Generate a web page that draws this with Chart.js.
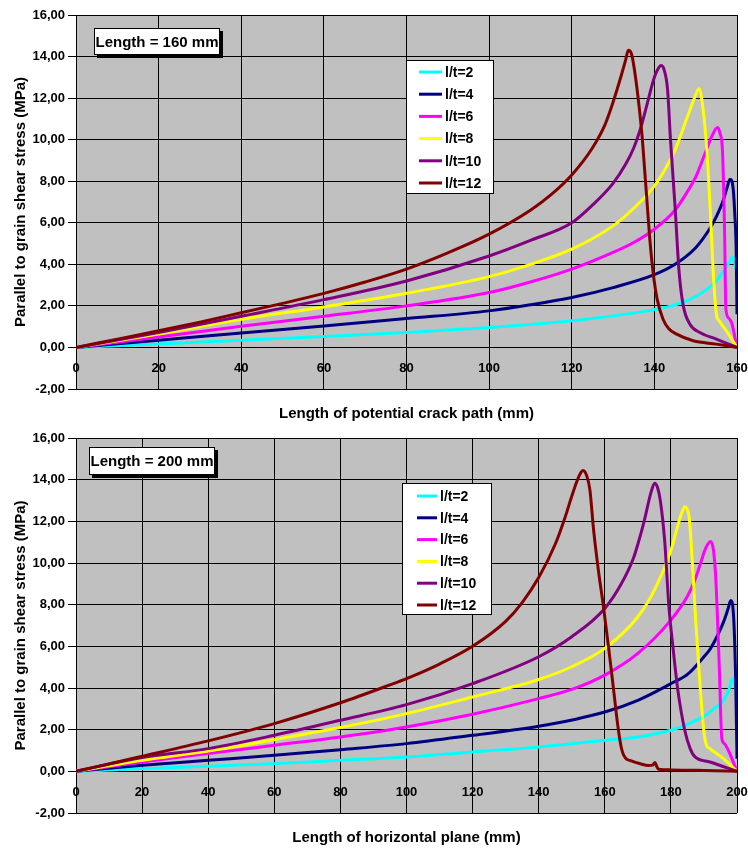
<!DOCTYPE html>
<html>
<head>
<meta charset="utf-8">
<script src="https://cdn.jsdelivr.net/npm/chart.js@4.4.1/dist/chart.umd.min.js"></script>
<style>
  body { margin: 0; background: #fff; }
  .wrap { width: 748px; height: 424px; position: relative; }
</style>
</head>
<body>
<div class="wrap"><canvas id="chart160" width="748" height="424"></canvas></div>
<div class="wrap"><canvas id="chart200" width="748" height="424"></canvas></div>
<script>
// Series labels (same for both panels)
const seriesLabels = ["l/t=2", "l/t=4", "l/t=6", "l/t=8", "l/t=10", "l/t=12"]
const seriesColors = ["#00FFFF", "#000080", "#FF00FF", "#FFFF00", "#800080", "#800000"]

// y tick values (MPa)
const yTicks = [-2, 0, 2, 4, 6, 8, 10, 12, 14, 16]

// ---- Length = 160 mm : x = length of potential crack path (mm), y = stress (MPa)
const x160_2 = [0, 20, 40, 60, 80, 100, 110, 120, 130, 140, 145, 150, 155, 157, 158.3, 158.9, 159.4, 160]
const y160_2 = [0, 0.17, 0.35, 0.53, 0.72, 0.96, 1.1, 1.28, 1.52, 1.82, 2.05, 2.45, 3.2, 3.75, 4.15, 4.35, 4.1, 3.6]

const x160_4 = [0, 20, 40, 60, 80, 100, 110, 120, 130, 140, 145, 150, 153.5, 155, 156.7, 157.6, 158.3, 159, 159.5, 159.8, 160]
const y160_4 = [0, 0.35, 0.7, 1.03, 1.39, 1.76, 2.05, 2.4, 2.88, 3.5, 4.0, 4.8, 5.75, 6.3, 7.1, 7.7, 8.1, 7.76, 6.3, 4.7, 1.6]

const x160_6 = [0, 20, 40, 60, 80, 100, 110, 120, 130, 135, 140, 145, 148, 150, 152, 154, 155.3, 155.9, 156.5, 157, 157.3, 157.9, 158.7, 159.1, 160]
const y160_6 = [0, 0.5, 1.02, 1.5, 2.0, 2.64, 3.15, 3.77, 4.57, 5.05, 5.69, 6.6, 7.5, 8.2, 9.2, 10.2, 10.58, 10.3, 9.4, 5.5, 1.9, 1.43, 1.2, 0.87, 0]

const x160_8 = [0, 20, 40, 60, 80, 100, 110, 120, 130, 135, 140, 145, 148, 150, 150.8, 151.7, 152.7, 153.6, 154.4, 155.1, 155.6, 157.5, 160]
const y160_8 = [0, 0.65, 1.35, 1.95, 2.61, 3.41, 4.0, 4.73, 5.85, 6.7, 7.77, 9.5, 11.1, 12.15, 12.45, 11.6, 9.5, 6.3, 3.1, 1.5, 1.3, 0.78, 0]

const x160_10 = [0, 20, 40, 60, 80, 100, 110, 120, 125, 130, 133, 135, 136.6, 138.1, 140, 141, 141.6, 142.3, 143.2, 143.9, 145, 146, 147, 148.6, 151, 155, 160]
const y160_10 = [0, 0.72, 1.5, 2.3, 3.2, 4.4, 5.15, 6.0, 6.85, 7.9, 8.8, 9.6, 10.5, 11.6, 13.0, 13.45, 13.57, 13.4, 12.4, 10.0, 6.8, 3.6, 2.0, 1.12, 0.72, 0.4, 0]

const x160_12 = [0, 10, 20, 30, 40, 50, 60, 70, 80, 90, 100, 110, 115, 120, 125, 128, 130, 132, 133, 133.7, 134.5, 135.3, 136.3, 137.1, 137.7, 138.3, 138.9, 139.7, 140.7, 142.1, 143.5, 145.4, 149.4, 155, 160]
const y160_12 = [0, 0.4, 0.8, 1.22, 1.67, 2.12, 2.6, 3.15, 3.77, 4.55, 5.45, 6.6, 7.35, 8.3, 9.6, 10.7, 11.8, 13.1, 13.8, 14.3, 14.1, 13.2, 11.6, 10.0, 8.4, 6.8, 5.2, 3.6, 2.3, 1.36, 0.9, 0.64, 0.32, 0.16, 0]

// ---- Length = 200 mm : x = length of horizontal plane (mm)
const x200_2 = [0, 20, 40, 60, 80, 100, 120, 140, 160, 170, 180, 185, 190, 193, 195.9, 197.5, 198.7, 200]
const y200_2 = [0, 0.13, 0.24, 0.37, 0.53, 0.69, 0.93, 1.17, 1.49, 1.65, 1.97, 2.25, 2.65, 3.0, 3.4, 3.9, 4.46, 3.65]

const x200_4 = [0, 20, 40, 60, 80, 100, 120, 140, 160, 170, 180, 185, 190, 192, 196, 197.3, 198.1, 198.9, 199.6, 200]
const y200_4 = [0, 0.29, 0.53, 0.77, 1.04, 1.33, 1.73, 2.16, 2.85, 3.41, 4.21, 4.65, 5.5, 5.9, 7.2, 7.8, 8.2, 7.6, 4.4, 0.6]

const x200_6 = [0, 20, 40, 60, 80, 100, 120, 140, 150, 160, 170, 180, 185, 187.3, 189, 190.5, 192, 192.9, 193.6, 194.6, 195.4, 196.2, 197.4, 200]
const y200_6 = [0, 0.45, 0.85, 1.25, 1.65, 2.13, 2.74, 3.49, 3.93, 4.62, 5.66, 7.26, 8.4, 9.2, 10.0, 10.7, 11.03, 10.6, 9.2, 5.2, 1.6, 1.33, 1.0, 0]

const x200_8 = [0, 20, 40, 60, 80, 100, 120, 140, 150, 160, 170, 175, 180, 182, 183.5, 184.2, 185, 185.6, 186.8, 187.6, 188.8, 189.8, 190.6, 191.8, 195.9, 200]
const y200_8 = [0, 0.53, 0.98, 1.52, 2.1, 2.77, 3.57, 4.41, 5.02, 5.9, 7.42, 8.7, 10.6, 11.75, 12.5, 12.7, 12.55, 12.1, 9.2, 7.0, 4.2, 2.2, 1.33, 1.09, 0.61, 0]

const x200_10 = [0, 20, 40, 60, 80, 100, 120, 140, 150, 160, 165, 168.6, 170, 171.9, 174, 175.1, 176, 176.8, 178.1, 179.4, 180.6, 182.1, 184.2, 185.8, 187.3, 191.8, 200]
const y200_10 = [0, 0.66, 1.09, 1.73, 2.45, 3.2, 4.21, 5.5, 6.46, 7.82, 9.0, 10.2, 10.9, 12.0, 13.4, 13.83, 13.6, 13.0, 11.1, 7.9, 6.0, 3.9, 1.97, 1.1, 0.69, 0.45, 0]

const x200_12 = [0, 20, 40, 60, 80, 95, 100, 110, 120, 130, 135, 140, 145, 148, 150, 151.5, 152.6, 153.4, 154.5, 155.5, 156.6, 158.1, 159.6, 161.1, 162.6, 164.1, 165.2, 166.2, 168, 171, 173.2, 174.5, 175.2, 175.8, 176.3, 180, 190, 200]
const y200_12 = [0, 0.72, 1.46, 2.29, 3.29, 4.15, 4.45, 5.15, 6.0, 7.2, 8.1, 9.3, 10.9, 12.2, 13.2, 13.9, 14.3, 14.44, 14.2, 13.5, 11.6, 9.6, 7.9, 6.0, 4.0, 2.0, 1.0, 0.65, 0.5, 0.35, 0.28, 0.3, 0.42, 0.2, 0.1, 0.07, 0.04, 0]

const FONT = "'Liberation Sans', Arial, sans-serif"
Chart.defaults.font.family = FONT
Chart.defaults.color = "#000"

function toPoints(xs, ys) {
  return xs.map((x, i) => ({ x: x, y: ys[i] }))
}

// Plot background, x-axis title, "Length = ..." box and legend
const decorPlugin = {
  id: "decor",
  beforeDraw(chart, args, opts) {
    const { ctx, chartArea: a } = chart
    ctx.save()
    ctx.fillStyle = "#C0C0C0"
    ctx.fillRect(a.left, a.top, a.right - a.left, a.bottom - a.top)
    ctx.restore()
  },
  afterDraw(chart, args, opts) {
    const { ctx, chartArea: a } = chart
    ctx.save()

    // x axis title
    ctx.fillStyle = "#000"
    ctx.font = "bold 15px " + FONT
    ctx.textAlign = "center"
    ctx.textBaseline = "middle"
    ctx.fillText(opts.xTitle, (a.left + a.right) / 2, opts.xTitleY)

    // label box with shadow
    const b = opts.box
    ctx.fillStyle = "#000"
    ctx.fillRect(b.x + 3, b.y + 3, b.w, b.h)
    ctx.fillStyle = "#fff"
    ctx.fillRect(b.x, b.y, b.w, b.h)
    ctx.strokeStyle = "#000"
    ctx.lineWidth = 1
    ctx.strokeRect(b.x + 0.5, b.y + 0.5, b.w - 1, b.h - 1)
    ctx.fillStyle = "#000"
    ctx.font = "bold 15px " + FONT
    ctx.textAlign = "center"
    ctx.fillText(opts.boxText, b.x + b.w / 2, b.y + b.h / 2 + 1)

    // legend
    const L = opts.legend
    ctx.fillStyle = "#fff"
    ctx.fillRect(L.x, L.y, L.w, L.h)
    ctx.strokeStyle = "#000"
    ctx.strokeRect(L.x + 0.5, L.y + 0.5, L.w - 1, L.h - 1)
    ctx.font = "bold 14px " + FONT
    ctx.textAlign = "left"
    chart.data.datasets.forEach((ds, i) => {
      const yy = L.row0 + i * L.gap
      ctx.strokeStyle = ds.borderColor
      ctx.lineWidth = 3
      ctx.beginPath()
      ctx.moveTo(L.line0, yy)
      ctx.lineTo(L.line1, yy)
      ctx.stroke()
      ctx.fillStyle = "#000"
      ctx.fillText(ds.label, L.textX, yy + 1)
    })
    ctx.restore()
  }
}

function makeChart(id, xs, ys, xMax, padTop, decor) {
  const datasets = seriesLabels.map((label, i) => ({
    label: label,
    data: toPoints(xs[i], ys[i]),
    borderColor: seriesColors[i],
    backgroundColor: seriesColors[i],
    borderWidth: 3,
    pointRadius: 0,
    fill: false,
    cubicInterpolationMode: "monotone",
    order: seriesLabels.length - i
  }))

  return new Chart(document.getElementById(id), {
    type: "line",
    data: { datasets: datasets },
    plugins: [decorPlugin],
    options: {
      responsive: false,
      animation: false,
      layout: { padding: { top: padTop, right: 11, bottom: 35, left: 0 } },
      plugins: {
        legend: { display: false },
        tooltip: { enabled: false },
        decor: decor
      },
      scales: {
        x: {
          type: "linear",
          min: 0,
          max: xMax,
          position: { y: 0 },
          ticks: { stepSize: 20, color: "#000", font: { weight: "bold", size: 13 }, padding: 8, maxRotation: 0 },
          grid: { color: "#000", tickColor: "#000", tickLength: 5 },
          border: { color: "#000" },
          afterFit: (scale) => { scale.paddingLeft = 0; scale.paddingRight = 0 }
        },
        y: {
          min: -2,
          max: 16,
          afterBuildTicks: (scale) => { scale.ticks = yTicks.map((v) => ({ value: v })) },
          ticks: {
            color: "#000",
            font: { weight: "bold", size: 13 },
            callback: (v) => v.toFixed(2).replace(".", ",")
          },
          grid: { color: "#000", tickColor: "#000", tickLength: 8 },
          border: { color: "#000" },
          title: {
            display: true,
            text: "Parallel to grain shear stress (MPa)",
            color: "#000",
            font: { weight: "bold", size: 15 },
            padding: { top: 12, bottom: 0 }
          },
          afterFit: (scale) => { scale.width = 76; scale.paddingTop = 0; scale.paddingBottom = 0 }
        }
      }
    }
  })
}

makeChart(
  "chart160",
  [x160_2, x160_4, x160_6, x160_8, x160_10, x160_12],
  [y160_2, y160_4, y160_6, y160_8, y160_10, y160_12],
  160, 15,
  {
    xTitle: "Length of potential crack path (mm)",
    xTitleY: 414,
    boxText: "Length = 160 mm",
    box: { x: 94, y: 28, w: 126, h: 27 },
    legend: { x: 406, y: 60, w: 88, h: 134, row0: 72, gap: 22.2, line0: 419, line1: 442, textX: 445 }
  }
)

makeChart(
  "chart200",
  [x200_2, x200_4, x200_6, x200_8, x200_10, x200_12],
  [y200_2, y200_4, y200_6, y200_8, y200_10, y200_12],
  200, 14,
  {
    xTitle: "Length of horizontal plane (mm)",
    xTitleY: 414,
    boxText: "Length = 200 mm",
    box: { x: 89, y: 23, w: 126, h: 28 },
    legend: { x: 402, y: 59, w: 90, h: 132, row0: 72, gap: 21.8, line0: 417, line1: 437, textX: 440 }
  }
)
</script>
</body>
</html>
